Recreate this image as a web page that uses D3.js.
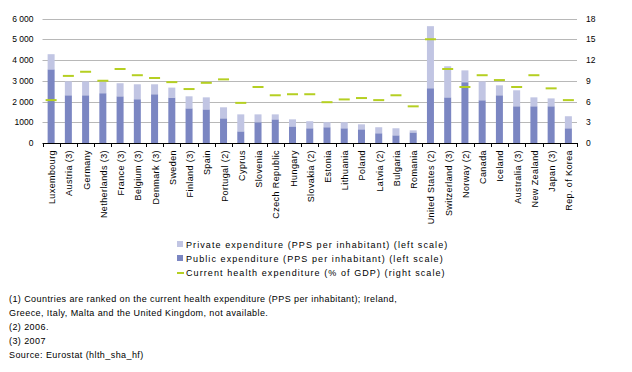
<!DOCTYPE html>
<html>
<head>
<meta charset="utf-8">
<script src="https://cdn.jsdelivr.net/npm/d3@7"></script>
<style>
  body { margin: 0; background: #fff; }
  svg text { font-family: "Liberation Sans", Arial, sans-serif; fill: #000; }
</style>
</head>
<body>
<div id="container"></div>
<script>
/* DATA */
const countries = ["Luxembourg", "Austria (3)", "Germany", "Netherlands (3)", "France (3)", "Belgium (3)",
  "Denmark (3)", "Sweden", "Finland (3)", "Spain", "Portugal (2)", "Cyprus", "Slovenia", "Czech Republic",
  "Hungary", "Slovakia (2)", "Estonia", "Lithuania", "Poland", "Latvia (2)", "Bulgaria", "Romania",
  "United States (2)", "Switzerland (3)", "Norway (2)", "Canada", "Iceland", "Australia (3)",
  "New Zealand", "Japan (3)", "Rep. of Korea"];

// public expenditure, PPS per inhabitant
const publicExp = [3550, 2300, 2300, 2400, 2250, 2110, 2350, 2190, 1670, 1620, 1190, 560, 1000, 1140,
  800, 710, 760, 710, 660, 470, 370, 510, 2640, 2200, 2930, 2060, 2300, 1770, 1770, 1770, 710];
// private expenditure, PPS per inhabitant
const privateExp = [730, 670, 670, 570, 630, 720, 480, 480, 580, 580, 530, 820, 380, 240,
  340, 340, 240, 290, 240, 290, 340, 100, 2990, 1500, 570, 910, 480, 770, 430, 380, 580];
// current health expenditure, % of GDP
const gdpShare = [6.2, 9.7, 10.3, 9.0, 10.7, 9.8, 9.4, 8.8, 7.8, 8.7, 9.2, 5.8, 8.1, 6.9,
  7.05, 7.05, 5.9, 6.3, 6.5, 6.2, 6.9, 5.3, 15.0, 10.7, 8.1, 9.8, 9.1, 8.1, 9.8, 7.9, 6.2];

const leftTicks = [0, 1000, 2000, 3000, 4000, 5000, 6000];
const rightTicks = [0, 3, 6, 9, 12, 15, 18];
const legendLabels = ["Private expenditure (PPS per inhabitant) (left scale)",
  "Public expenditure (PPS per inhabitant) (left scale)",
  "Current health expenditure (% of GDP) (right scale)"];
const notes = ["(1) Countries are ranked on the current health expenditure (PPS per inhabitant); Ireland,",
  "Greece, Italy, Malta and the United Kingdom, not available.",
  "(2) 2006.",
  "(3) 2007",
  "Source: Eurostat (hlth_sha_hf)"];

/* CONSTANTS */
const width = 632, height = 372;
const margin = {top: 18.5, left: 42.5, right: 55, bottom: 229};
const colPublic = "#7b86c2", colPrivate = "#c1c5e3", colLine = "#b5cf22";

const svg = d3.select("#container").append("svg")
  .attr("width", width).attr("height", height);

/* SCALES */
const x = d3.scaleBand()
  .domain(countries)
  .range([margin.left, width - margin.right]);

const y = d3.scaleLinear().domain([0, 6000]).range([height - margin.bottom, margin.top]);
const y2 = d3.scaleLinear().domain([0, 18]).range([height - margin.bottom, margin.top]);
const mid = d => x(d) + x.bandwidth() / 2;

// gridlines
svg.append("g")
  .selectAll("line")
  .data(leftTicks.slice(1))
  .join("line")
  .attr("x1", margin.left).attr("x2", width - margin.right)
  .attr("y1", d => Math.round(y(d)) + 0.5).attr("y2", d => Math.round(y(d)) + 0.5)
  .attr("stroke", "#b8b8b8").attr("stroke-width", 1);

// bars
const bars = svg.append("g");
bars.selectAll(".pub")
  .data(countries)
  .join("rect")
  .attr("class", "pub")
  .attr("x", d => mid(d) - 3.5)
  .attr("width", 7)
  .attr("y", (d, i) => y(publicExp[i]))
  .attr("height", (d, i) => y(0) - y(publicExp[i]))
  .attr("fill", colPublic);
bars.selectAll(".priv")
  .data(countries)
  .join("rect")
  .attr("class", "priv")
  .attr("x", d => mid(d) - 3.5)
  .attr("width", 7)
  .attr("y", (d, i) => y(publicExp[i] + privateExp[i]))
  .attr("height", (d, i) => y(publicExp[i]) - y(publicExp[i] + privateExp[i]))
  .attr("fill", colPrivate);

// % of GDP markers
svg.append("g")
  .selectAll("line")
  .data(countries)
  .join("line")
  .attr("x1", d => mid(d) - 5.5)
  .attr("x2", d => mid(d) + 5.5)
  .attr("y1", (d, i) => y2(gdpShare[i]))
  .attr("y2", (d, i) => y2(gdpShare[i]))
  .attr("stroke", colLine).attr("stroke-width", 2);

/* AXES */
const fmt = d => d >= 2000 ? d3.format(",")(d).replace(",", " ") : String(d);
const leftAxis = svg.append("g")
  .attr("transform", `translate(${margin.left},0)`)
  .call(d3.axisLeft(y).tickValues(leftTicks).tickFormat(fmt).tickSize(0).tickPadding(9));
leftAxis.select(".domain").remove();
leftAxis.selectAll("text").attr("font-size", 8.5).style("font-family", "Liberation Sans, Arial");

const rightAxis = svg.append("g")
  .attr("transform", `translate(${width - margin.right},0)`)
  .call(d3.axisRight(y2).tickValues(rightTicks).tickSize(0).tickPadding(9));
rightAxis.select(".domain").remove();
rightAxis.selectAll("text").attr("font-size", 8.5).style("font-family", "Liberation Sans, Arial");

// bottom axis: ticks between categories
const base = y(0);
const bottom = svg.append("g");
bottom.append("line")
  .attr("x1", margin.left).attr("x2", width - margin.right)
  .attr("y1", Math.round(base) + 0.5).attr("y2", Math.round(base) + 0.5)
  .attr("stroke", "#000");
bottom.selectAll(".tk")
  .data(countries.concat(["end"]))
  .join("line")
  .attr("class", "tk")
  .attr("x1", (d, i) => Math.round(i < countries.length ? x(d) : width - margin.right) + 0.5)
  .attr("x2", (d, i) => Math.round(i < countries.length ? x(d) : width - margin.right) + 0.5)
  .attr("y1", Math.round(base)).attr("y2", Math.round(base) + 4)
  .attr("stroke", "#000");
bottom.selectAll("text")
  .data(countries)
  .join("text")
  .attr("transform", d => `translate(${mid(d) + 4},${base + 7}) rotate(-90)`)
  .attr("text-anchor", "end")
  .attr("font-size", 9)
  .attr("letter-spacing", 0.4)
  .text(d => d);

/* LEGEND */
const legend = svg.append("g").attr("transform", "translate(177,245)");
legendLabels.forEach((lab, i) => {
  const g = legend.append("g").attr("transform", `translate(0,${i * 14})`);
  if (i < 2) {
    g.append("rect").attr("x", 0).attr("y", -4).attr("width", 6).attr("height", 6)
      .attr("fill", i === 0 ? colPrivate : colPublic);
  } else {
    g.append("line").attr("x1", 0).attr("x2", 7).attr("y1", 0).attr("y2", 0)
      .attr("stroke", colLine).attr("stroke-width", 2);
  }
  g.append("text").attr("x", 9).attr("y", 3).attr("font-size", 9)
    .attr("letter-spacing", 1.08).text(lab);
});

/* NOTES */
svg.append("g").selectAll("text")
  .data(notes)
  .join("text")
  .attr("x", 9)
  .attr("y", (d, i) => 302 + i * 14)
  .attr("font-size", 9)
  .attr("letter-spacing", 0.42)
  .text(d => d);
</script>
</body>
</html>
